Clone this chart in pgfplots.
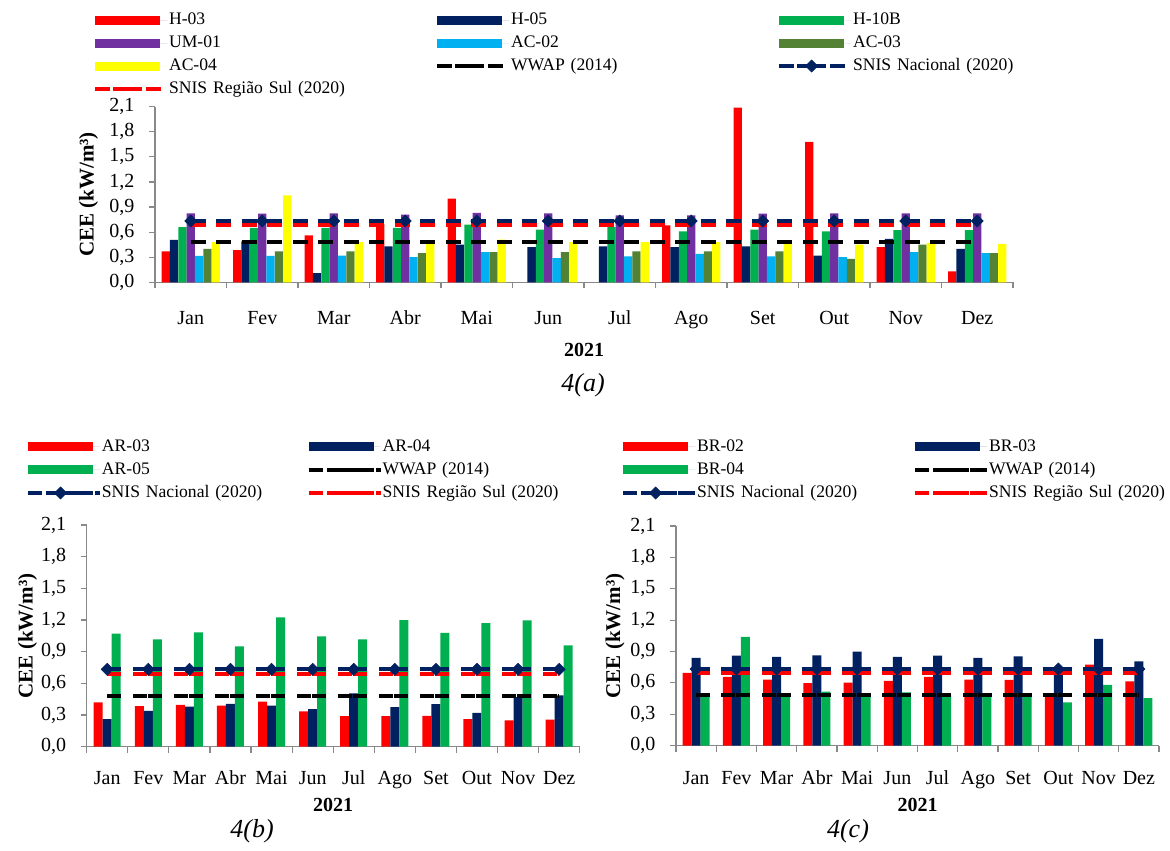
\documentclass[border=0pt]{standalone}
\usepackage{fontspec}
\setmainfont{Liberation Serif}
\usepackage{pgfplots}
\pgfplotsset{compat=1.18}
\definecolor{cred}{HTML}{FF0000}
\definecolor{cnavy}{HTML}{002060}
\definecolor{cgreen}{HTML}{00B050}
\definecolor{cpurple}{HTML}{7030A0}
\definecolor{clblue}{HTML}{00B0F0}
\definecolor{colive}{HTML}{548235}
\definecolor{cyellow}{HTML}{FFFF00}
\definecolor{caxis}{HTML}{898989}
\pgfplotsset{
 barleg/.style={legend image code/.code={\path (0pt,0pt) -- (72pt,0pt); \fill[##1] (0pt,-4.5pt) rectangle (65pt,4.5pt);}},
 lineleg/.style={legend image code/.code={\path (0pt,0pt) -- (72pt,0pt);
   \draw[##1, solid, line width=3.5pt] (0pt,0pt) -- (10pt,0pt);
   \draw[##1, solid, line width=3.5pt] (18.4pt,0pt) -- (28.4pt,0pt);
   \draw[##1, solid, line width=3.5pt] (36.8pt,0pt) -- (46.8pt,0pt);
   \draw[##1, solid, line width=3.5pt] (55.2pt,0pt) -- (65.2pt,0pt);}},
 markleg/.style={legend image code/.code={\path (0pt,0pt) -- (72pt,0pt);
   \draw[##1, solid, line width=3.5pt] (0pt,0pt) -- (10pt,0pt);
   \draw[##1, solid, line width=3.5pt] (18.4pt,0pt) -- (28.4pt,0pt);
   \draw[##1, solid, line width=3.5pt] (36.8pt,0pt) -- (46.8pt,0pt);
   \draw[##1, solid, line width=3.5pt] (55.2pt,0pt) -- (65.2pt,0pt);
   \draw[##1, solid] plot coordinates {(32.6pt,0pt)};}},
 cee/.style={
  scale only axis,
  axis x line*=bottom, axis y line*=left,
  axis line style={caxis, line width=1.5pt},
  xmin=-0.5, xmax=11.5, ymin=0, ymax=2.1,
  xtick={0,...,11},
  xticklabels={Jan,Fev,Mar,Abr,Mai,Jun,Jul,Ago,Set,Out,Nov,Dez},
  minor xtick={-0.5,0.5,...,11.5},
  ytick={0,0.3,0.6,0.9,1.2,1.5,1.8,2.1},
  tick align=outside,
  major tick length=6pt, minor tick length=6pt,
  major x tick style={draw=none},
  minor x tick style={caxis, line width=1.2pt},
  major y tick style={caxis, line width=1.2pt},
  yticklabel style={/pgf/number format/fixed, /pgf/number format/fixed zerofill, /pgf/number format/precision=1, /pgf/number format/use comma, /pgf/number format/assume math mode=true, xshift=-11pt},
  tick label style={font=\fontsize{20}{24}\selectfont},
  xlabel style={font=\bfseries\fontsize{20}{24}\selectfont},
  ylabel style={font=\bfseries\fontsize{21}{25}\selectfont},
  ylabel={CEE (kW/m³)},
  xlabel={2021},
  legend cell align=left,
  legend style={draw=none, fill=none, inner sep=0pt, outer sep=0pt, column sep=0pt, row sep=6pt, anchor=north west, font=\fontsize{17.6}{21}\selectfont},
 },
 wline/.style={black, line width=4pt},
 nline/.style={cnavy, line width=4pt, mark=square*, mark size=4.3pt, mark options={solid, rotate=45, fill=cnavy, draw=cnavy, line width=0.5pt}},
 sline/.style={cred, line width=4pt},
}
\begin{document}
\begin{tikzpicture}
\path[use as bounding box] (0pt,0pt) rectangle (1170pt,851pt);
% ---------------- panel (a)
\begin{axis}[cee, at={(155pt,568.7pt)}, anchor=south west, width=858pt, height=175.6pt,
  xticklabel style={anchor=base, yshift=-36pt},
  xlabel style={at={(axis description cs:0.5,-0.3855)}, anchor=center},
  ylabel style={at={(axis description cs:-0.0775,0.5)}, anchor=center},
  legend columns=3,
  legend style={at={(axis description cs:-0.0722,1.542)}, nodes={inner sep=0pt, text width=266pt, text height=13pt, text depth=4pt}},
]
\addplot[ybar, bar width=8.33pt, bar shift=-25pt, fill=cred, draw=none, barleg] coordinates {(0,0.37) (1,0.386) (2,0.56) (3,0.70) (4,1.00) (7,0.68) (8,2.09) (9,1.68) (10,0.42) (11,0.13)};
\addplot[ybar, bar width=8.33pt, bar shift=-16.67pt, fill=cnavy, draw=none, barleg] coordinates {(0,0.506) (1,0.49) (2,0.11) (3,0.43) (4,0.45) (5,0.42) (6,0.43) (7,0.42) (8,0.43) (9,0.32) (10,0.52) (11,0.40)};
\addplot[ybar, bar width=8.33pt, bar shift=-8.33pt, fill=cgreen, draw=none, barleg] coordinates {(0,0.66) (1,0.65) (2,0.65) (3,0.65) (4,0.69) (5,0.63) (6,0.66) (7,0.61) (8,0.63) (9,0.61) (10,0.625) (11,0.625)};
\addplot[ybar, bar width=8.33pt, bar shift=0pt, fill=cpurple, draw=none, barleg] coordinates {(0,0.825) (1,0.82) (2,0.825) (3,0.81) (4,0.83) (5,0.825) (6,0.80) (7,0.80) (8,0.82) (9,0.825) (10,0.825) (11,0.825)};
\addplot[ybar, bar width=8.33pt, bar shift=8.33pt, fill=clblue, draw=none, barleg] coordinates {(0,0.315) (1,0.315) (2,0.32) (3,0.30) (4,0.36) (5,0.29) (6,0.31) (7,0.34) (8,0.31) (9,0.30) (10,0.36) (11,0.35)};
\addplot[ybar, bar width=8.33pt, bar shift=16.67pt, fill=colive, draw=none, barleg] coordinates {(0,0.40) (1,0.37) (2,0.37) (3,0.35) (4,0.36) (5,0.36) (6,0.37) (7,0.37) (8,0.37) (9,0.28) (10,0.45) (11,0.35)};
\addplot[ybar, bar width=8.33pt, bar shift=25pt, fill=cyellow, draw=none, barleg] coordinates {(0,0.48) (1,1.04) (2,0.48) (3,0.48) (4,0.51) (5,0.48) (6,0.48) (7,0.48) (8,0.46) (9,0.45) (10,0.47) (11,0.46)};
\addplot[wline, dash pattern=on 15pt off 10.5pt, lineleg] coordinates {(0,0.48) (1,0.48) (2,0.48) (3,0.48) (4,0.48) (5,0.48) (6,0.48) (7,0.48) (8,0.48) (9,0.48) (10,0.48) (11,0.48)};
\addplot[nline, dash pattern=on 15pt off 10.5pt, markleg] coordinates {(0,0.733) (1,0.733) (2,0.733) (3,0.733) (4,0.733) (5,0.733) (6,0.733) (7,0.733) (8,0.733) (9,0.733) (10,0.733) (11,0.733)};
\addplot[sline, dash pattern=on 15pt off 10.5pt, lineleg] coordinates {(0,0.69) (1,0.69) (2,0.69) (3,0.69) (4,0.69) (5,0.69) (6,0.69) (7,0.69) (8,0.69) (9,0.69) (10,0.69) (11,0.69)};
\legend{H-03,H-05,H-10B,UM-01,AC-02,AC-03,AC-04,WWAP (2014),SNIS Nacional (2020),SNIS Região Sul (2020)}
\end{axis}
% ---------------- panel (b)
\begin{axis}[cee, at={(86.7pt,104.3pt)}, anchor=south west, width=493pt, height=221.7pt,
  xticklabel style={anchor=base, yshift=-32pt},
  xlabel style={at={(axis description cs:0.5,-0.263)}, anchor=center},
  ylabel style={at={(axis description cs:-0.12,0.5)}, anchor=center},
  legend columns=2,
  legend style={at={(axis description cs:-0.1232,1.3902)}, nodes={inner sep=0pt, text width=204.6pt, text height=13pt, text depth=4pt}},
]
\addplot[ybar, bar width=9pt, bar shift=-9pt, fill=cred, draw=none, barleg] coordinates {(0,0.42) (1,0.385) (2,0.395) (3,0.39) (4,0.426) (5,0.335) (6,0.29) (7,0.29) (8,0.293) (9,0.26) (10,0.25) (11,0.256)};
\addplot[ybar, bar width=9pt, bar shift=0pt, fill=cnavy, draw=none, barleg] coordinates {(0,0.26) (1,0.34) (2,0.38) (3,0.405) (4,0.39) (5,0.355) (6,0.505) (7,0.375) (8,0.404) (9,0.32) (10,0.47) (11,0.486)};
\addplot[ybar, bar width=9pt, bar shift=9pt, fill=cgreen, draw=none, barleg] coordinates {(0,1.07) (1,1.017) (2,1.083) (3,0.95) (4,1.225) (5,1.045) (6,1.017) (7,1.20) (8,1.077) (9,1.17) (10,1.197) (11,0.96)};
\addplot[wline, dash pattern=on 14pt off 12pt on 14pt off 1pt, lineleg] coordinates {(0,0.48) (1,0.48) (2,0.48) (3,0.48) (4,0.48) (5,0.48) (6,0.48) (7,0.48) (8,0.48) (9,0.48) (10,0.48) (11,0.48)};
\addplot[nline, dash pattern=on 14pt off 12pt on 14pt off 1pt, markleg] coordinates {(0,0.733) (1,0.733) (2,0.733) (3,0.733) (4,0.733) (5,0.733) (6,0.733) (7,0.733) (8,0.733) (9,0.733) (10,0.733) (11,0.733)};
\addplot[sline, dash pattern=on 14pt off 12pt on 14pt off 1pt, lineleg] coordinates {(0,0.69) (1,0.69) (2,0.69) (3,0.69) (4,0.69) (5,0.69) (6,0.69) (7,0.69) (8,0.69) (9,0.69) (10,0.69) (11,0.69)};
\legend{AR-03,AR-04,AR-05,WWAP (2014),SNIS Nacional (2020),SNIS Região Sul (2020)}
\end{axis}
% ---------------- panel (c)
\begin{axis}[cee, at={(676pt,105.4pt)}, anchor=south west, width=483pt, height=219.5pt,
  xticklabel style={anchor=base, yshift=-33pt},
  xlabel style={at={(axis description cs:0.5,-0.2706)}, anchor=center},
  ylabel style={at={(axis description cs:-0.1263,0.5)}, anchor=center},
  legend columns=2,
  legend style={at={(axis description cs:-0.1138,1.3991)}, nodes={inner sep=0pt, text width=216pt, text height=13pt, text depth=4pt}},
]
\addplot[ybar, bar width=9pt, bar shift=-9pt, fill=cred, draw=none, barleg] coordinates {(0,0.695) (1,0.657) (2,0.63) (3,0.597) (4,0.603) (5,0.62) (6,0.657) (7,0.63) (8,0.628) (9,0.49) (10,0.775) (11,0.615)};
\addplot[ybar, bar width=9pt, bar shift=0pt, fill=cnavy, draw=none, barleg] coordinates {(0,0.84) (1,0.86) (2,0.85) (3,0.863) (4,0.90) (5,0.848) (6,0.86) (7,0.84) (8,0.853) (9,0.72) (10,1.02) (11,0.806)};
\addplot[ybar, bar width=9pt, bar shift=9pt, fill=cgreen, draw=none, barleg] coordinates {(0,0.467) (1,1.04) (2,0.467) (3,0.517) (4,0.498) (5,0.508) (6,0.483) (7,0.498) (8,0.476) (9,0.413) (10,0.58) (11,0.454)};
\addplot[wline, dash pattern=on 14pt off 11.2pt on 14pt off 1pt, lineleg] coordinates {(0,0.48) (1,0.48) (2,0.48) (3,0.48) (4,0.48) (5,0.48) (6,0.48) (7,0.48) (8,0.48) (9,0.48) (10,0.48) (11,0.48)};
\addplot[nline, dash pattern=on 14pt off 11.2pt on 14pt off 1pt, markleg] coordinates {(0,0.733) (1,0.733) (2,0.733) (3,0.733) (4,0.733) (5,0.733) (6,0.733) (7,0.733) (8,0.733) (9,0.733) (10,0.733) (11,0.733)};
\addplot[sline, dash pattern=on 14pt off 11.2pt on 14pt off 1pt, lineleg] coordinates {(0,0.69) (1,0.69) (2,0.69) (3,0.69) (4,0.69) (5,0.69) (6,0.69) (7,0.69) (8,0.69) (9,0.69) (10,0.69) (11,0.69)};
\legend{BR-02,BR-03,BR-04,WWAP (2014),SNIS Nacional (2020),SNIS Região Sul (2020)}
\end{axis}
\node[font=\itshape\fontsize{26}{30}\selectfont] at (583pt,466pt) {4(a)};
\node[font=\itshape\fontsize{26}{30}\selectfont] at (252pt,20pt) {4(b)};
\node[font=\itshape\fontsize{26}{30}\selectfont] at (848pt,20pt) {4(c)};
\end{tikzpicture}
\end{document}
